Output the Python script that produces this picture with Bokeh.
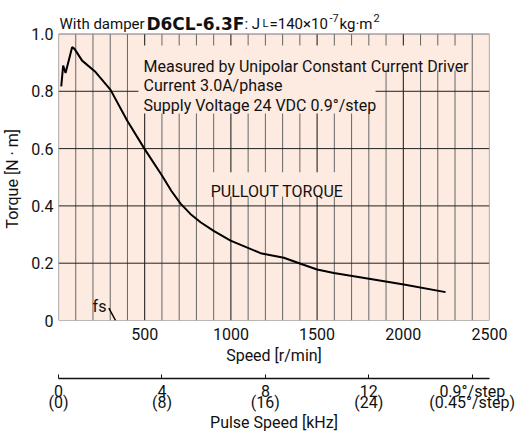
from bokeh.plotting import figure
from bokeh.models import Range1d, LinearAxis, FixedTicker, Label
from bokeh.embed import file_html
from bokeh.resources import INLINE

# ---- data ----
speed = [16, 27, 41, 79, 93, 137, 215, 302, 398, 499, 601, 655, 708, 765, 824, 900,
         998, 1172, 1307, 1404, 1500, 1597, 1810, 2003, 2245]
torque = [0.817, 0.890, 0.864, 0.954, 0.948, 0.907, 0.867, 0.805, 0.698, 0.599,
          0.505, 0.452, 0.408, 0.372, 0.343, 0.313, 0.279, 0.235, 0.219, 0.198,
          0.178, 0.166, 0.145, 0.126, 0.099]
fs_speed = [292, 331]
fs_torque = [0.043, 0.0]

speed_ticks = [500, 1000, 1500, 2000, 2500]
speed_grid_major = [500, 1000, 1500, 2000]
speed_grid_minor = [s for s in range(100, 2500, 100) if s % 500]
torque_ticks = [0, 0.2, 0.4, 0.6, 0.8, 1.0]
torque_grid = [0.2, 0.4, 0.6, 0.8]
torque_labels = {0: "0", 0.2: "0.2", 0.4: "0.4", 0.6: "0.6", 0.8: "0.8", 1.0: "1.0"}
pulse_ticks = [0, 4, 8, 12, 16]
pulse_labels = {0: "0\n(0)", 4: "4\n(8)", 8: "8\n(16)", 12: "12\n(24)",
                16: "0.9°/step\n(0.45°/step)"}
note_lines = ["Measured by Unipolar Constant Current Driver",
              "Current 3.0A/phase",
              "Supply Voltage 24 VDC 0.9°/step"]

FONT = "Roboto"
BG = "#FDEAE0"
INK = "#111111"
XMAX, YMAX = 2500, 1.0

p = figure(width=520, height=441, output_backend="svg", toolbar_location=None,
           x_range=Range1d(0, XMAX), y_range=Range1d(0, 1.1134),
           min_border_left=58, min_border_right=31, min_border_top=1,
           min_border_bottom=121)
p.background_fill_color = "white"
p.border_fill_color = "white"
p.outline_line_color = None
p.xgrid.visible = False
p.ygrid.visible = False

# chart area (peach panel), grid lines, outline
p.quad(left=[0], right=[XMAX], bottom=[0], top=[YMAX], fill_color=BG, line_color=None)
p.segment(x0=speed_grid_minor, x1=speed_grid_minor, y0=[0] * len(speed_grid_minor),
          y1=[YMAX] * len(speed_grid_minor), line_color="#666666", line_width=1)
p.segment(x0=speed_grid_major, x1=speed_grid_major, y0=[0] * len(speed_grid_major),
          y1=[YMAX] * len(speed_grid_major), line_color=INK, line_width=1)
p.segment(x0=[0] * len(torque_grid), x1=[XMAX] * len(torque_grid), y0=torque_grid,
          y1=torque_grid, line_color="#222222", line_width=1)

# masks behind the text blocks (cover grid lines)
p.quad(left=[464, 1839, 840], right=[1839, 2390, 1660],
       bottom=[0.7225, 0.873, 0.433], top=[0.960, 0.960, 0.517],
       fill_color=BG, line_color=None)
p.quad(left=[0], right=[XMAX], bottom=[0], top=[YMAX], fill_color=None,
       line_color="#777777", line_width=1.2)

# curves
p.line(speed, torque, line_color="black", line_width=2)
p.line(fs_speed, fs_torque, line_color="black", line_width=1.5)

# main axes
xa = p.xaxis[0]
xa.ticker = FixedTicker(ticks=speed_ticks)
xa.axis_line_color = None
xa.major_tick_line_color = None
xa.minor_tick_line_color = None
xa.major_tick_out = 0
xa.major_label_standoff = 7
xa.major_label_text_font = FONT
xa.major_label_text_font_size = "16px"
xa.major_label_text_color = INK
xa.axis_label = "Speed [r/min]"
xa.axis_label_standoff = 3
xa.axis_label_text_font = FONT
xa.axis_label_text_font_size = "16px"
xa.axis_label_text_font_style = "normal"
xa.axis_label_text_color = INK

ya = p.yaxis[0]
ya.ticker = FixedTicker(ticks=torque_ticks)
ya.major_label_overrides = torque_labels
ya.axis_line_color = None
ya.major_tick_line_color = None
ya.minor_tick_line_color = None
ya.major_tick_out = 0
ya.major_label_standoff = 5
ya.major_label_text_font = FONT
ya.major_label_text_font_size = "16px"
ya.major_label_text_color = INK
ya.axis_label = "Torque [N · m]" + "\u00a0" * 9
ya.axis_label_standoff = 6
ya.axis_label_text_font = FONT
ya.axis_label_text_font_size = "16px"
ya.axis_label_text_font_style = "normal"
ya.axis_label_text_color = INK

# spacer axis (invisible) to push the pulse axis down
spacer = LinearAxis(ticker=FixedTicker(ticks=[]), axis_line_color=None,
                    major_tick_line_color=None, minor_tick_line_color=None,
                    major_tick_out=0, major_tick_in=0, major_label_standoff=0,
                    axis_label="\u00a0", axis_label_standoff=2,
                    axis_label_text_font_size="6px")
p.add_layout(spacer, "below")

# pulse speed axis
p.extra_x_ranges = {"pulse": Range1d(0, XMAX / 150)}
pa = LinearAxis(x_range_name="pulse", ticker=FixedTicker(ticks=pulse_ticks))
pa.major_label_overrides = pulse_labels
pa.axis_line_color = INK
pa.axis_line_width = 1.3
pa.major_tick_line_color = INK
pa.major_tick_in = 4
pa.major_tick_out = 0
pa.minor_tick_line_color = None
pa.major_label_standoff = 3
pa.major_label_text_font = FONT
pa.major_label_text_font_size = "16px"
pa.major_label_text_color = INK
pa.major_label_text_line_height = 0.6
pa.axis_label = "Pulse Speed [kHz]"
pa.axis_label_standoff = -2
pa.axis_label_text_font = FONT
pa.axis_label_text_font_size = "16px"
pa.axis_label_text_font_style = "normal"
pa.axis_label_text_color = INK
p.add_layout(pa, "below")

def lab(x, y, t, size="16px", align="left", font=FONT, style="normal"):
    p.add_layout(Label(x=x, y=y, text=t, text_font=font, text_font_size=size,
                       text_font_style=style, text_color=INK, text_align=align,
                       text_baseline="alphabetic"))

for i, t in enumerate(note_lines):
    lab(493, [0.887, 0.820, 0.750][i], t)
lab(1268, 0.450, "PULLOUT TORQUE", align="center")
lab(238, 0.048, "fs", align="center")

# title pieces
ty = 1.0366
lab(6, ty, "With damper", size="15px")
lab(510, ty, "D6CL-6.3F", size="17px", font="DejaVu Sans", style="bold")
lab(1079, ty, ": J", size="15px")
lab(1184, ty, "L", size="11px")
lab(1224, ty, "=140×10", size="15px")
lab(1572, ty + 0.02, "-7", size="11px")
lab(1630, ty, "kg·m", size="15px")
lab(1827, ty + 0.02, "2", size="11px")

open("out.html", "w").write(file_html(p, INLINE))
